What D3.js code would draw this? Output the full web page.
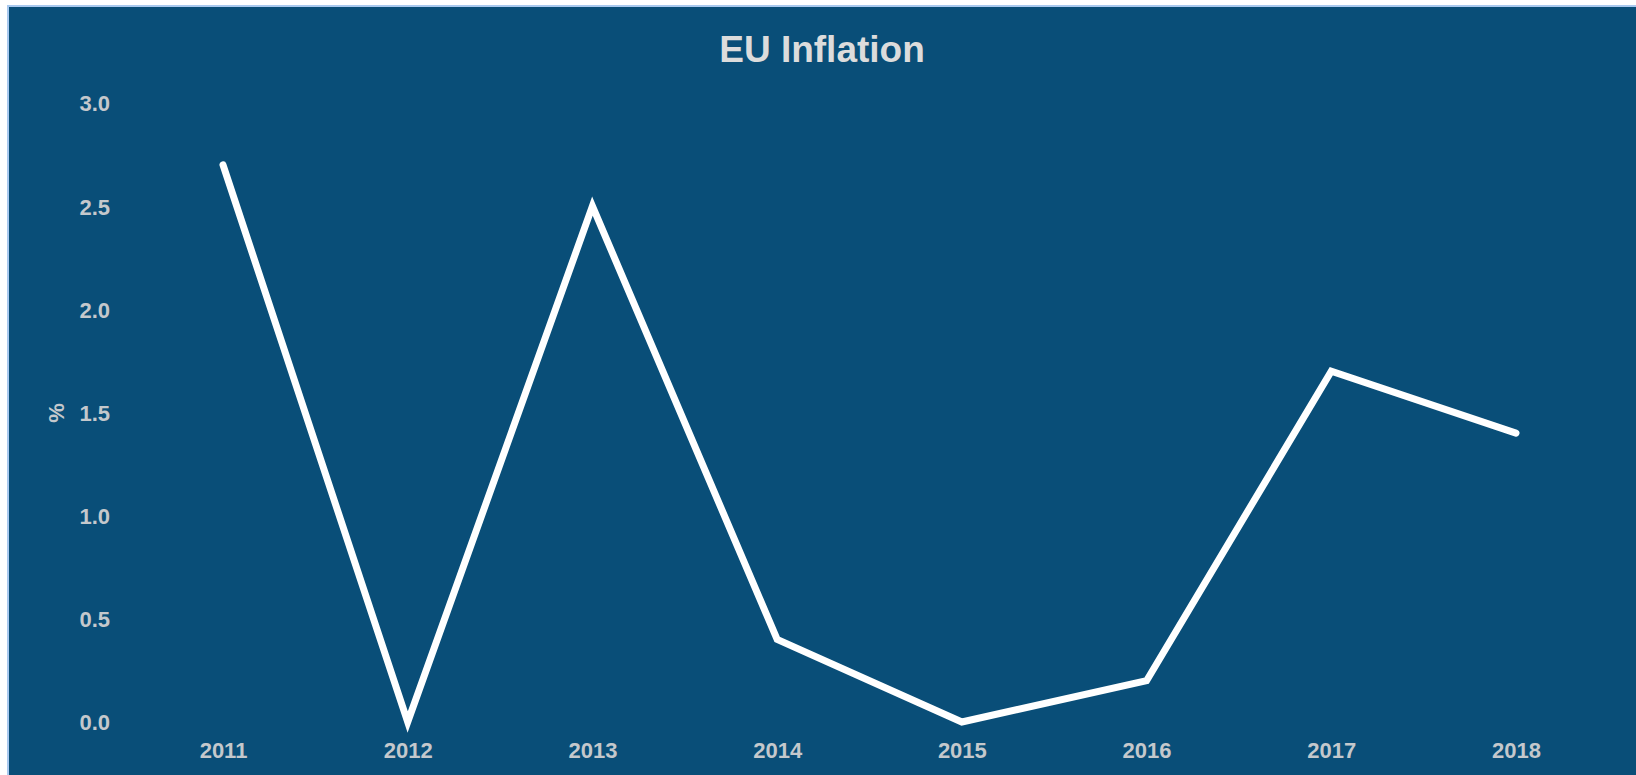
<!DOCTYPE html>
<html>
<head>
<meta charset="utf-8">
<script src="https://cdn.jsdelivr.net/npm/d3@7"></script>
<style>
  html, body { margin: 0; padding: 0; background: #ffffff; overflow: hidden; }
  #panel {
    position: absolute; left: 7px; top: 5px;
    width: 1640px; height: 790px;
    background: #094e78;
    border-left: 2px solid #a9c9ef; border-top: 2px solid #a9c9ef;
    box-sizing: border-box;
  }
  svg { position: absolute; left: 0; top: 0; }
  text { font-family: "Liberation Sans", Arial, sans-serif; font-weight: bold; }
</style>
</head>
<body>
<div id="panel"></div>
<svg id="chart" width="1636" height="775"></svg>
<script>
// EU annual inflation, percent
const years = ["2011", "2012", "2013", "2014", "2015", "2016", "2017", "2018"];
const inflation = [2.7, 0.0, 2.5, 0.4, 0.0, 0.2, 1.7, 1.4];
const yTicks = [0, 0.5, 1, 1.5, 2, 2.5, 3];
const title = "EU Inflation";
const yLabel = "%";

const svg = d3.select("#chart");

const x = d3.scalePoint().domain(years).range([223, 1516]);
const y = d3.scaleLinear().domain([0, 3]).range([722, 103]);

// title
svg.append("text")
  .attr("x", 822).attr("y", 62)
  .attr("text-anchor", "middle")
  .attr("font-size", 37)
  .attr("fill", "#dcdcdc")
  .text(title);

// y axis (labels only)
const yAxis = svg.append("g")
  .attr("transform", "translate(110,0)")
  .call(d3.axisLeft(y).tickValues(yTicks).tickFormat(d3.format(".1f")).tickSize(0).tickPadding(0));
yAxis.select(".domain").remove();
yAxis.selectAll("text")
  .attr("font-size", 22)
  .attr("font-family", "Liberation Sans, Arial, sans-serif")
  .attr("font-weight", "bold")
  .attr("fill", "#c4c8cc")
  .attr("dy", "0.36em");

// x axis (labels only)
const xAxis = svg.append("g")
  .attr("transform", "translate(0,747)")
  .call(d3.axisBottom(x).tickSize(0).tickPadding(0));
xAxis.select(".domain").remove();
xAxis.selectAll("text")
  .attr("font-size", 22)
  .attr("font-family", "Liberation Sans, Arial, sans-serif")
  .attr("font-weight", "bold")
  .attr("fill", "#c4c8cc")
  .attr("dy", "0.5em");

// y axis title
svg.append("text")
  .attr("transform", "translate(64,413) rotate(-90)")
  .attr("text-anchor", "middle")
  .attr("font-size", 22)
  .attr("fill", "#c4c8cc")
  .text(yLabel);

// inflation line
const line = d3.line()
  .x((d, i) => x(years[i]))
  .y(d => y(d));

svg.append("path")
  .datum(inflation)
  .attr("d", line)
  .attr("fill", "none")
  .attr("stroke", "#ffffff")
  .attr("stroke-width", 7)
  .attr("stroke-linecap", "round")
  .attr("stroke-linejoin", "miter");
</script>
</body>
</html>
